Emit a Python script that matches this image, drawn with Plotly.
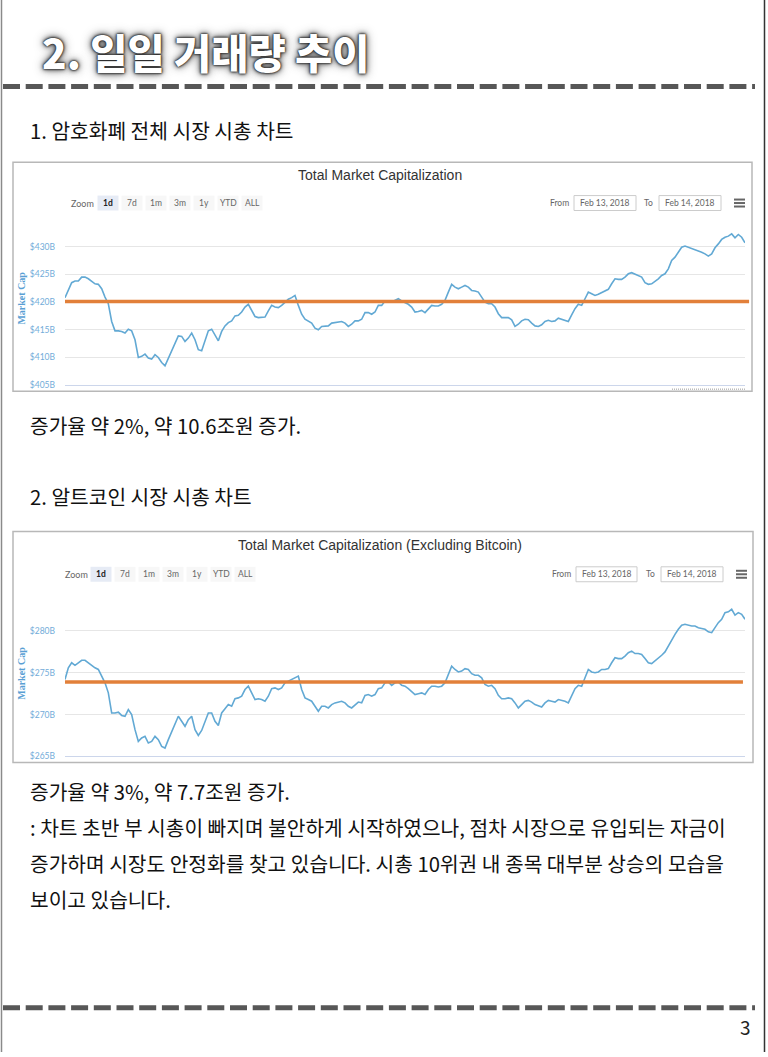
import pandas as pd
import plotly.graph_objects as go

W, H = 768, 1057

# ---------------- data ----------------
cap_total = [
    420.8, 422.1, 423.5, 423.8, 423.8, 424.5, 424.5, 424.2, 423.8, 423.3,
    423.2, 422.4, 420.9, 419.7, 416.5, 414.8, 414.8, 414.7, 414.4, 415.1,
    414.8, 413.2, 410.0, 410.2, 410.6, 409.9, 409.7, 410.5, 410.0, 409.1,
    408.5, 409.9, 411.4, 412.7, 413.9, 413.8, 412.9, 413.5, 414.4, 413.2,
    411.4, 411.2, 413.0, 414.8, 415.1, 414.1, 413.0, 414.7, 415.7, 416.3,
    416.6, 417.5, 417.6, 418.2, 419.1, 419.6, 418.4, 417.4, 417.2, 417.2,
    417.3, 418.4, 419.4, 419.1, 419.0, 419.4, 420.0, 420.5, 420.8, 421.2,
    419.4, 417.8, 416.9, 416.6, 416.2, 415.3, 415.0, 415.6, 415.6, 415.7,
    416.2, 416.3, 416.3, 416.5, 416.2, 415.6, 416.0, 416.6, 416.6, 416.9,
    418.1, 418.1, 417.8, 418.2, 419.4,
    419.4, 420.2, 420.2, 420.0, 420.3, 420.6, 420.2, 419.9, 419.6, 419.1,
    418.2, 418.3, 418.5, 418.1, 418.8, 419.4, 419.3, 419.3, 419.6, 420.3,
    421.8, 423.2, 422.7, 422.4, 422.7, 423.0, 422.7, 422.1, 422.0, 421.8,
    420.9, 420.0, 419.7, 419.7, 419.1, 417.9, 417.2, 417.2, 417.2, 416.8,
    415.6, 416.0, 416.6, 416.9, 416.8, 416.2, 415.7, 415.6, 415.9, 416.5,
    416.7, 416.5, 416.6, 417.1, 416.9, 416.8, 416.5, 417.7, 418.8, 419.6,
    419.4, 420.6, 421.8, 421.5, 421.2, 421.4, 421.7, 422.0, 422.3, 423.3,
    424.2, 424.1, 424.1, 424.5, 425.1, 425.3, 425.0, 424.8, 424.5, 423.5,
    423.2, 423.3, 423.7, 424.2, 424.8, 425.1, 426.0, 427.5, 428.1, 428.9,
    429.9, 430.1, 429.9, 429.6, 429.5, 429.2, 429.0, 428.7, 428.3, 428.7,
    429.8, 430.5, 431.3, 431.7, 431.9, 432.3, 431.6, 432.2, 431.7, 430.7,
]

cap_alt = [
    274.2, 275.6, 276.2, 275.9, 276.2, 276.5, 276.5, 276.2, 275.8, 275.6,
    275.4, 274.6, 273.8, 272.6, 270.2, 270.2, 270.3, 269.9, 269.8, 270.6,
    270.0, 268.2, 266.8, 267.2, 267.4, 266.6, 266.8, 267.4, 267.0, 266.2,
    266.0, 267.0, 267.9, 268.8, 269.8, 269.2, 268.6, 269.4, 269.8, 268.2,
    267.5, 268.1, 269.2, 270.2, 270.2, 269.2, 268.7, 270.2, 270.7, 271.2,
    271.0, 271.9, 272.0, 272.2, 273.0, 273.4, 272.6, 271.8, 271.9, 271.8,
    271.6, 272.2, 273.1, 273.2, 273.0, 273.2, 273.8, 274.0, 274.2, 274.4,
    274.6, 273.0, 272.0, 271.8, 271.6, 271.0, 270.4, 271.0, 271.0, 270.8,
    271.2, 271.4, 271.5, 271.6, 271.4, 271.0, 270.8, 271.2, 271.5, 271.4,
    272.3, 272.4, 272.2, 272.4, 273.1,
    273.2, 273.8, 273.9, 273.5, 273.8, 273.9, 273.5, 273.4, 273.1, 272.8,
    272.4, 272.5, 272.6, 272.4, 273.0, 273.4, 273.4, 273.3, 273.4, 273.8,
    274.8, 275.8, 275.4, 275.1, 275.2, 275.5, 275.4, 274.9, 274.7, 274.7,
    274.4, 273.6, 273.4, 273.5, 273.1, 272.3, 271.9, 271.9, 272.0, 271.9,
    271.4, 270.8, 271.2, 271.6, 271.7, 271.5, 271.2, 271.0, 270.9, 271.4,
    271.7, 271.6, 271.5, 271.8, 271.7, 271.6, 271.4, 272.2, 273.1, 273.5,
    273.4, 274.4, 275.4, 275.1, 275.0, 275.1, 275.4, 275.4, 275.5, 276.2,
    276.8, 276.7, 276.7, 277.0, 277.4, 277.6, 277.3, 277.3, 277.2, 276.7,
    276.2, 276.1, 276.4, 276.8, 277.1, 277.5, 278.2, 279.0, 279.6, 280.2,
    280.7, 280.8, 280.7, 280.6, 280.6, 280.4, 280.3, 280.2, 279.9, 279.8,
    280.4, 281.0, 281.4, 282.2, 282.3, 282.6, 281.9, 282.2, 282.0, 281.4,
]

ref_total = 420.1
ref_alt = 273.9

y1_ticks = [405, 410, 415, 420, 425, 430, 435]
y1_labels = ["$405B", "$410B", "$415B", "$420B", "$425B", "$430B", ""]
y2_ticks = [265, 270, 275, 280, 285]
y2_labels = ["$265B", "$270B", "$275B", "$280B", ""]

zoom_buttons = ["1d", "7d", "1m", "3m", "1y", "YTD", "ALL"]
date_from = "Feb 13, 2018"
date_to = "Feb 14, 2018"

title_main = "2. 일일 거래량 추이"
chart1_title = "Total Market Capitalization"
chart2_title = "Total Market Capitalization (Excluding Bitcoin)"
axis_title = "Market Cap"
heading1 = "1. 암호화폐 전체 시장 시총 차트"
note1 = "증가율 약 2%, 약 10.6조원 증가."
heading2 = "2. 알트코인 시장 시총 차트"
note2 = "증가율 약 3%, 약 7.7조원 증가."
body_lines = [
    ": 차트 초반 부 시총이 빠지며 불안하게 시작하였으나, 점차 시장으로 유입되는 자금이",
    "증가하며 시장도 안정화를 찾고 있습니다. 시총 10위권 내 종목 대부분 상승의 모습을",
    "보이고 있습니다.",
]
page_no = "3"

times = pd.date_range("2018-02-13 00:00", "2018-02-14 00:00", periods=len(cap_total))
times2 = pd.date_range("2018-02-13 00:00", "2018-02-14 00:00", periods=len(cap_alt))


def X(p):
    return p / W


def Y(p):
    return 1 - p / H


KR = "Noto Sans CJK KR, Noto Sans, sans-serif"
UI = "Lato, Open Sans, sans-serif"

fig = go.Figure()
fig.add_trace(go.Scatter(x=times, y=cap_total, mode="lines",
                         line=dict(color="#62a9d4", width=1.6),
                         xaxis="x", yaxis="y", hoverinfo="skip", showlegend=False))
fig.add_trace(go.Scatter(x=times2, y=cap_alt, mode="lines",
                         line=dict(color="#62a9d4", width=1.6),
                         xaxis="x2", yaxis="y2", hoverinfo="skip", showlegend=False))

common_x = dict(type="date", showgrid=False, showticklabels=False, zeroline=False,
                showline=True, linecolor="#ccd6eb", linewidth=1, ticks="")
common_y = dict(tickmode="array", showgrid=True, gridcolor="#e6e6e6", gridwidth=1,
                zeroline=False, ticks="", ticklabelstandoff=9,
                tickfont=dict(size=8.5, color="#72acd9", family=UI))

fig.update_layout(
    width=W, height=H,
    margin=dict(l=0, r=0, t=0, b=0),
    paper_bgcolor="white", plot_bgcolor="white",
    showlegend=False,
    xaxis=dict(domain=[X(65), X(745)], anchor="y",
               range=[times[0], times[-1]], **common_x),
    yaxis=dict(domain=[Y(387), Y(220)], anchor="x", range=[405, 435],
               tickvals=y1_ticks, ticktext=y1_labels, **common_y),
    xaxis2=dict(domain=[X(65), X(745)], anchor="y2",
                range=[times2[0], times2[-1]], **common_x),
    yaxis2=dict(domain=[Y(760), Y(592)], anchor="x2", range=[265, 285],
                tickvals=y2_ticks, ticktext=y2_labels, **common_y),
)

shapes = []
ann = []


def note(x, y, text, font, **kw):
    d = dict(xref="paper", yref="paper", x=X(x), y=Y(y), text=text,
             showarrow=False, xanchor=kw.pop("xanchor", "center"),
             yanchor="middle", font=font)
    d.update(kw)
    ann.append(d)


# page frame
shapes.append(dict(type="line", xref="paper", yref="paper", x0=X(1.5), x1=X(1.5),
                   y0=0, y1=1, line=dict(color="#8a8a8a", width=1.5)))
shapes.append(dict(type="line", xref="paper", yref="paper", x0=X(764.5), x1=X(764.5),
                   y0=0, y1=1, line=dict(color="#333333", width=1.5)))
for yy in (87, 1012.5):
    shapes.append(dict(type="line", xref="paper", yref="paper", x0=X(3), x1=X(755),
                       y0=Y(yy), y1=Y(yy),
                       line=dict(color="#575757", width=5, dash="17px,5.7px")))

# chart boxes
for (x0, x1, y0, y1) in [(13, 752, 163, 393), (13, 753, 534, 766)]:
    shapes.append(dict(type="rect", xref="paper", yref="paper", x0=X(x0), x1=X(x1),
                       y0=Y(y1), y1=Y(y0), line=dict(color="#b8b8b8", width=1.5),
                       fillcolor="rgba(0,0,0,0)", layer="below"))

# reference lines
shapes.append(dict(type="line", xref="x domain", yref="y", x0=0, x1=1.006,
                   y0=ref_total, y1=ref_total, line=dict(color="#e2803a", width=3.5)))
shapes.append(dict(type="line", xref="x2 domain", yref="y2", x0=0, x1=0.997,
                   y0=ref_alt, y1=ref_alt, line=dict(color="#e2803a", width=3.5)))

# dotted remnant of x-axis labels (chart 1)
shapes.append(dict(type="line", xref="paper", yref="paper", x0=X(672), x1=X(746),
                   y0=Y(391), y1=Y(391), line=dict(color="#999999", width=1, dash="1px,1px")))


def toolbar(yc, zoom_x, first_c, from_x, box1, box2, to_x, ham):
    note(zoom_x, yc, "Zoom", dict(size=9, color="#666666", family=UI))
    for i, lab in enumerate(zoom_buttons):
        cx = first_c + 24 * i
        sel = i == 0
        shapes.append(dict(type="rect", xref="paper", yref="paper",
                           x0=X(cx - 10.5), x1=X(cx + 10.5), y0=Y(yc + 7.5), y1=Y(yc - 7.5),
                           line=dict(width=0), fillcolor="#e6ebf5" if sel else "#f7f7f7",
                           layer="below"))
        note(cx, yc, f"<b>{lab}</b>" if sel else lab,
             dict(size=8.5, color="#222222" if sel else "#666666", family=UI))
    note(from_x, yc, "From", dict(size=8.5, color="#666666", family=UI))
    note(to_x, yc, "To", dict(size=8.5, color="#666666", family=UI))
    for (bx0, bx1), txt in ((box1, date_from), (box2, date_to)):
        shapes.append(dict(type="rect", xref="paper", yref="paper",
                           x0=X(bx0), x1=X(bx1), y0=Y(yc + 7.5), y1=Y(yc - 7.5),
                           line=dict(color="#cccccc", width=1), fillcolor="white"))
        note((bx0 + bx1) / 2, yc, txt, dict(size=8.5, color="#666666", family=UI))
    for dy in (-3.5, 0, 3.5):
        shapes.append(dict(type="line", xref="paper", yref="paper",
                           x0=X(ham[0]), x1=X(ham[1]), y0=Y(yc + dy), y1=Y(yc + dy),
                           line=dict(color="#666666", width=2)))


toolbar(204, 82, 108, 559.5, (574, 636), (659, 721), 648, (734, 745))
toolbar(577, 76, 101, 561, (576, 637), (661, 723), 650, (736, 747))

# chart titles
note(380, 176, chart1_title, dict(size=14, color="#333333", family="Liberation Sans, Arial"))
note(380, 548, chart2_title, dict(size=14, color="#333333", family="Liberation Sans, Arial"))

# y-axis titles
for yc in (300, 677):
    note(22, yc, axis_title, dict(size=10, color="#5a9fd4", family="Liberation Serif, serif",
                                  weight="bold"),
         textangle=-90)

# main heading with glow
note(40, 52, title_main,
     dict(size=40.5, color="white", family=KR, weight=900,
          shadow="0px 0px 2px #222, 0px 0px 2px #222, 0px 0px 4px #444, 0px 0px 7px #777, 0px 0px 12px #999"),
     xanchor="left")

# body texts
text_items = [(heading1, 131), (note1, 427), (heading2, 498), (note2, 795)]
text_items += [(t, yy) for t, yy in zip(body_lines, (831, 867, 903))]
for t, yy in text_items:
    note(28, yy, t, dict(size=20.3, color="#111111", family=KR), xanchor="left")

note(745, 1031, page_no, dict(size=19, color="#222222", family=KR))

fig.update_layout(shapes=shapes, annotations=ann)
fig.write_html("out.html", config={"displayModeBar": False},
               post_script="document.body.style.margin='0px';")
